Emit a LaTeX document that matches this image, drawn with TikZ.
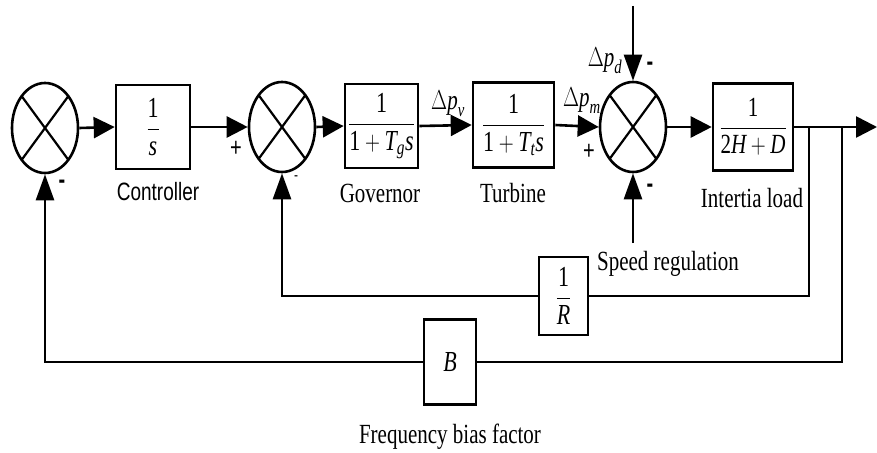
\documentclass[tikz,border=0pt]{standalone}
\usepackage{fontspec}
\setmainfont{Liberation Serif}
\setsansfont{Liberation Sans}
\usepackage{amsmath}
\usepackage{graphicx}
\usetikzlibrary{arrows.meta,shapes.geometric,calc}
\newcommand{\vst}[1]{\scalebox{1}[1.32]{#1}}
\newcommand{\ti}[1]{\text{\itshape #1}}
\newcommand{\tr}[1]{\text{#1}}
\begin{document}
\begin{tikzpicture}[x=1pt,y=-1pt,
  ln/.style={line width=2.6pt},
  blk/.style={draw,line width=2.6pt,inner sep=0pt,font=\fontsize{22}{26}\selectfont},
  sumn/.style={draw,ellipse,line width=2.6pt,minimum width=66pt,minimum height=90pt,inner sep=0pt},
  ha/.style={-{Triangle[length=21pt,width=21pt]}},
  va/.style={-{Triangle[length=26pt,width=18pt]}},
  lbl/.style={font=\fontsize{21}{24}\selectfont,inner sep=0pt},
  slbl/.style={font=\sffamily\fontsize{19}{22}\selectfont,inner sep=0pt},
  sgn/.style={font=\sffamily\bfseries\fontsize{20}{22}\selectfont,inner sep=0pt},
  plus/.style={font=\sffamily\fontsize{20}{22}\selectfont,inner sep=0pt}]
\useasboundingbox (0,0) rectangle (877,452);
% summing junctions
\node[sumn] (s1) at (45,128) {};
\node[sumn] (s2) at (282,127) {};
\node[sumn] (s3) at (633,127) {};
\foreach \s in {s1,s2,s3}{
  \draw[line width=2.2pt] ($(\s.center)+(-23.3,-31.8)$) -- ($(\s.center)+(23.3,31.8)$);
  \draw[line width=2.2pt] ($(\s.center)+(23.3,-31.8)$) -- ($(\s.center)+(-23.3,31.8)$);
}
% blocks
\node[blk,minimum width=74pt,minimum height=84pt] (ctrl) at (153,127) {\vst{$\dfrac{\tr{1}}{\ti{s}}$}};
\node[blk,minimum width=73pt,minimum height=84pt] (gov) at (381.5,126) {\vst{$\dfrac{\tr{1}}{\tr{1}+\ti{T}_{\ti{g}}\ti{s}}$}};
\node[blk,minimum width=81pt,minimum height=85pt] (turb) at (513.5,125) {\vst{$\dfrac{\tr{1}}{\tr{1}+\ti{T}_{\ti{t}}\ti{s}}$}};
\node[blk,minimum width=80pt,minimum height=87pt,font=\fontsize{21}{24}\selectfont] (load) at (753,127) {\vst{$\dfrac{\tr{1}}{\tr{2}\ti{H}+\ti{D}}$}};
\node[blk,minimum width=49pt,minimum height=78pt] (R) at (563.5,296) {\vst{$\dfrac{\tr{1}}{\ti{R}}$}};
\node[blk,minimum width=52pt,minimum height=85pt] (B) at (450,362) {\vst{\itshape B}};
% coordinates
\coordinate (out) at (877,127);
\coordinate (b1) at (809,127);
\coordinate (b2) at (842,127);
\coordinate (dist) at (633,6);
\coordinate (sreg) at (633,243);
% forward path
\draw[ln,ha] (s1.east) -- (ctrl.west);
\draw[ln,ha] (ctrl.east) -- (s2.west);
\draw[ln,ha] (s2.east) -- (gov.west);
\draw[ln,ha] (gov.east) -- (turb.west);
\draw[ln,ha] (turb.east) -- (s3.west);
\draw[ln,ha] (s3.east) -- (load.west);
\draw[ln,ha] (load.east) -- (out);
\draw[ln,va] (dist) -- (s3.north);
\draw[ln,va] (sreg) -- (s3.south);
% feedback paths
\draw[ln] (b1) |- (R.east);
\draw[ln,va] (R.west) -| (s2.south);
\draw[ln] (b2) |- (B.east);
\draw[ln,va] (B.west) -| (s1.south);
% labels
\node[slbl] (lc) at (158,192) {\vst{Controller}};
\node[lbl] (lg) at (380,193) {\vst{Governor}};
\node[lbl] (lt) at (513,193) {\vst{Turbine}};
\node[lbl] (ll) at (752,198) {\vst{Intertia load}};
\node[lbl] (ls) at (668,264) {\vst{Speed regulation}};
\node[lbl] (lf) at (450,437) {\vst{Frequency bias factor}};
\node[lbl] (pv) at (448,104) {\vst{$\Delta \ti{p}_{\ti{v}}$}};
\node[lbl] (pm) at (582,101) {\vst{$\Delta \ti{p}_{\ti{m}}$}};
\node[lbl] (pd) at (605,61) {\vst{$\Delta \ti{p}_{\ti{d}}$}};
% signs
\node[plus] (p1) at (236,149) {\vst{+}};
\node[plus] (p2) at (589,152) {\vst{+}};
\node[sgn] (m1) at (62,184) {\vst{-}};
\node[sgn,font=\sffamily\fontsize{12}{14}\selectfont] (m2) at (296,178) {\vst{-}};
\node[sgn] (m3) at (650,66) {\vst{-}};
\node[sgn] (m4) at (650,188) {\vst{-}};
\end{tikzpicture}
\end{document}
